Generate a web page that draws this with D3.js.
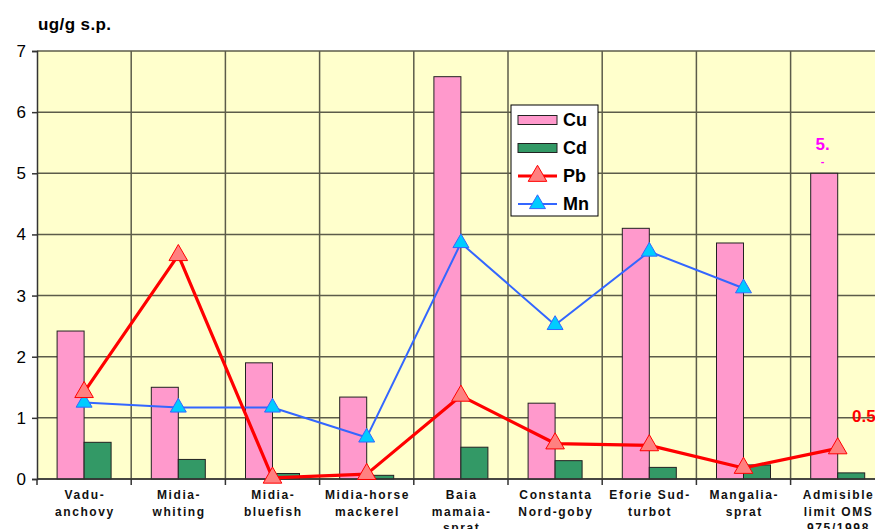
<!DOCTYPE html>
<html>
<head>
<meta charset="utf-8">
<script src="https://cdn.jsdelivr.net/npm/d3@7/dist/d3.min.js"></script>
<style>
  html, body { margin: 0; padding: 0; background: #fff; }
  svg { display: block; font-family: Arial, "Liberation Sans", sans-serif; }
</style>
</head>
<body>
<svg id="chart" width="875" height="529"></svg>
<script>
// Metal content in fish, ug/g s.p.
const categories = [
  ["Vadu-", "anchovy"],
  ["Midia-", "whiting"],
  ["Midia-", "bluefish"],
  ["Midia-horse", "mackerel"],
  ["Baia", "mamaia-", "sprat"],
  ["Constanta", "Nord-goby"],
  ["Eforie Sud-", "turbot"],
  ["Mangalia-", "sprat"],
  ["Admisible", "limit OMS", "975/1998"]
];
const cu = [2.42, 1.50, 1.90, 1.34, 6.58, 1.24, 4.10, 3.86, 5.0];
const cd = [0.60, 0.32, 0.09, 0.06, 0.52, 0.30, 0.19, 0.23, 0.10];
const pb = [1.42, 3.66, 0.02, 0.08, 1.36, 0.58, 0.55, 0.18, 0.5];
const mn = [1.25, 1.17, 1.17, 0.68, 3.86, 2.52, 3.72, 3.12, null];
const yTicks = [0, 1, 2, 3, 4, 5, 6, 7];

const svg = d3.select("#chart");
const plotL = 37, plotT = 51, plotB = 479, step = 94.2;
const plotR = plotL + step * categories.length;

const x = d3.scaleBand().domain(d3.range(categories.length)).range([plotL, plotR]).padding(0);
const y = d3.scaleLinear().domain([0, 7]).range([plotB, plotT]);
const cx = i => x(i) + x.bandwidth() / 2;
const barW = 27;

// plot area
svg.append("rect").attr("x", plotL).attr("y", plotT)
  .attr("width", plotR - plotL).attr("height", plotB - plotT).attr("fill", "#FFFFCC");

const gridColor = "#5c5c4a";
// horizontal gridlines
svg.append("g").selectAll("line").data(yTicks).join("line")
  .attr("x1", plotL).attr("x2", plotR)
  .attr("y1", d => y(d)).attr("y2", d => y(d))
  .attr("stroke", gridColor).attr("stroke-width", 1.5);
// vertical gridlines at category boundaries
svg.append("g").selectAll("line").data(d3.range(1, categories.length + 1)).join("line")
  .attr("x1", i => x(0) + i * x.bandwidth()).attr("x2", i => x(0) + i * x.bandwidth())
  .attr("y1", plotT).attr("y2", plotB)
  .attr("stroke", gridColor).attr("stroke-width", 1.5);

// bars
svg.append("g").selectAll("rect").data(cu).join("rect")
  .attr("x", (d, i) => cx(i) - barW).attr("y", d => y(d))
  .attr("width", barW).attr("height", d => plotB - y(d))
  .attr("fill", "#FF99CC").attr("stroke", "#222").attr("stroke-width", 1);
svg.append("g").selectAll("rect").data(cd).join("rect")
  .attr("x", (d, i) => cx(i)).attr("y", d => y(d))
  .attr("width", barW).attr("height", d => plotB - y(d))
  .attr("fill", "#339966").attr("stroke", "#222").attr("stroke-width", 1);

// y axis
const yAxis = d3.axisLeft(y).tickValues(yTicks).tickSize(5).tickFormat(d3.format("d"));
const ya = svg.append("g").attr("transform", `translate(${plotL},0)`).call(yAxis);
ya.select(".domain").attr("stroke", "#333").attr("stroke-width", 1.5);
ya.selectAll(".tick line").attr("stroke", "#333").attr("stroke-width", 1.5);
ya.selectAll(".tick text").attr("font-size", 17).attr("fill", "#000")
  .attr("font-family", "Arial, 'Liberation Sans', sans-serif").attr("x", -11);

// x axis baseline and boundary ticks
svg.append("line").attr("x1", plotL).attr("x2", plotR).attr("y1", plotB).attr("y2", plotB)
  .attr("stroke", "#333").attr("stroke-width", 1.5);
svg.append("g").selectAll("line").data(d3.range(0, categories.length + 1)).join("line")
  .attr("x1", i => x(0) + i * x.bandwidth()).attr("x2", i => x(0) + i * x.bandwidth())
  .attr("y1", plotB).attr("y2", plotB + 6)
  .attr("stroke", "#333").attr("stroke-width", 1.5);

// category labels (third lines run past the bottom edge)
const lab = svg.append("g").selectAll("text").data(categories).join("text")
  .attr("text-anchor", "middle").attr("font-size", 12).attr("font-weight", "bold")
  .attr("letter-spacing", "1.6px").attr("fill", "#111");
lab.each(function(lines, i) {
  d3.select(this).selectAll("tspan").data(lines).join("tspan")
    .attr("x", cx(i) + 0.8).attr("y", (d, k) => 499 + k * 16.5).text(d => d);
});

// line series
function lineSeries(vals, color, width, fill, tri) {
  const pts = vals.map((v, i) => v == null ? null : [cx(i), y(v)]).filter(p => p);
  svg.append("path").datum(pts)
    .attr("d", d3.line())
    .attr("fill", "none").attr("stroke", color).attr("stroke-width", width)
    .attr("stroke-linejoin", "round");
  const sym = d3.symbol().type(d3.symbolTriangle).size(tri);
  svg.append("g").selectAll("path").data(pts).join("path")
    .attr("d", sym).attr("transform", p => `translate(${p[0]},${p[1]})`)
    .attr("fill", fill).attr("stroke", color).attr("stroke-width", 1);
}
lineSeries(mn, "#3366FF", 2, "#00CCFF", 110);
lineSeries(pb, "#FF0000", 3.2, "#FF8080", 150);

// value labels
svg.append("text").attr("x", cx(8) - 15).attr("y", y(cu[8]) - 23)
  .attr("text-anchor", "middle").attr("font-size", 17).attr("font-weight", "bold")
  .attr("fill", "#FF00FF").text("5.");
svg.append("text").attr("x", cx(8) - 15).attr("y", y(cu[8]) - 8)
  .attr("text-anchor", "middle").attr("font-size", 11).attr("font-weight", "bold")
  .attr("fill", "#FF00FF").text("-");
svg.append("text").attr("x", 852).attr("y", 422)
  .attr("font-size", 17).attr("font-weight", "bold")
  .attr("fill", "#FF0000").text(pb[8].toFixed(1));

// unit title
svg.append("text").attr("x", 38).attr("y", 30)
  .attr("font-size", 17).attr("font-weight", "bold").attr("letter-spacing", "0.4px")
  .attr("fill", "#000").text("ug/g s.p.");

// legend
const lg = svg.append("g").attr("transform", "translate(511,105)");
lg.append("rect").attr("width", 87).attr("height", 111)
  .attr("fill", "#fff").attr("stroke", "#000").attr("stroke-width", 1);
const legendItems = [
  { name: "Cu", type: "bar", fill: "#FF99CC" },
  { name: "Cd", type: "bar", fill: "#339966" },
  { name: "Pb", type: "line", color: "#FF0000", fill: "#FF8080", w: 3.2, size: 150 },
  { name: "Mn", type: "line", color: "#3366FF", fill: "#00CCFF", w: 2, size: 110 }
];
legendItems.forEach((it, k) => {
  const cy = 15 + k * 28;
  if (it.type === "bar") {
    lg.append("rect").attr("x", 7).attr("y", cy - 4.5).attr("width", 39).attr("height", 9)
      .attr("fill", it.fill).attr("stroke", "#222").attr("stroke-width", 1);
  } else {
    lg.append("line").attr("x1", 7).attr("x2", 46).attr("y1", cy).attr("y2", cy)
      .attr("stroke", it.color).attr("stroke-width", it.w);
    lg.append("path").attr("d", d3.symbol().type(d3.symbolTriangle).size(it.size))
      .attr("transform", `translate(26.5,${cy})`)
      .attr("fill", it.fill).attr("stroke", it.color).attr("stroke-width", 1);
  }
  lg.append("text").attr("x", 52).attr("y", cy + 6).attr("font-size", 18)
    .attr("font-weight", "bold").attr("fill", "#000").text(it.name);
});
</script>
</body>
</html>
